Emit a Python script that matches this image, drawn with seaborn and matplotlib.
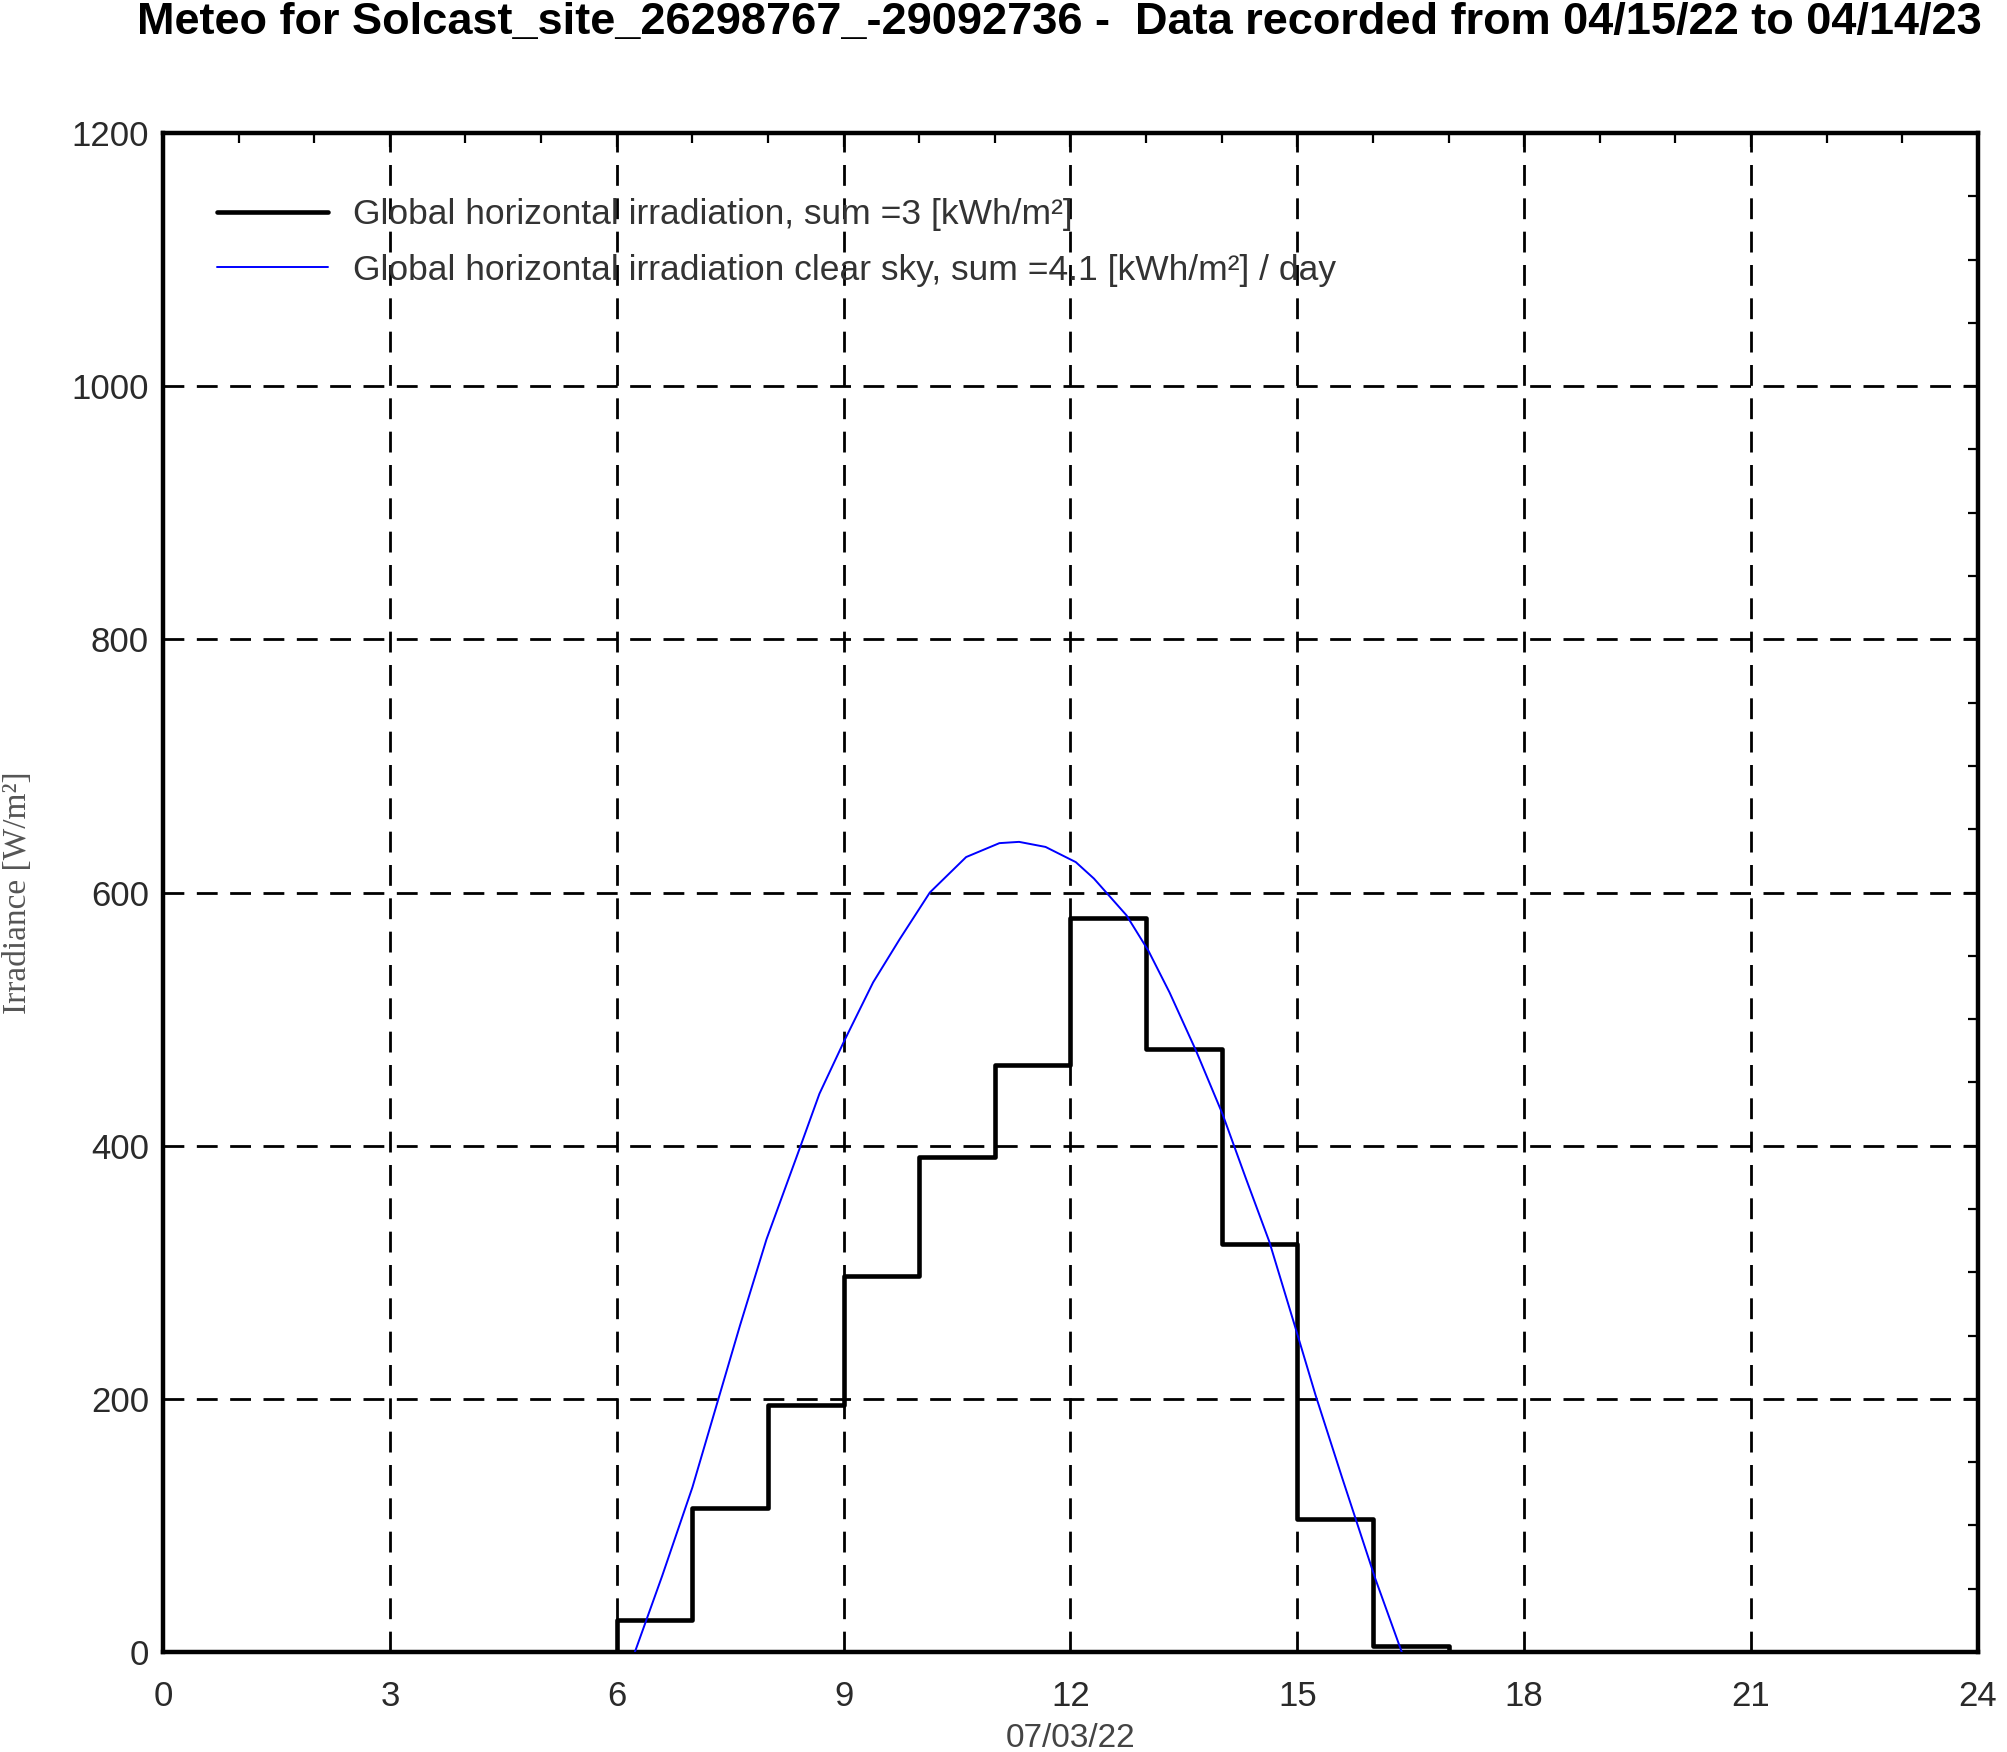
import numpy as np
import pandas as pd
import matplotlib
matplotlib.use('Agg')
import matplotlib.pyplot as plt
import seaborn as sns
from matplotlib import font_manager
from matplotlib.ticker import MultipleLocator

# 数据：逐时总辐射（阶梯）与晴空辐射曲线
hours = list(range(25))
ghi = [0, 0, 0, 0, 0, 0, 25, 114, 195, 297, 391, 464, 580, 476, 322, 105, 5, 0, 0, 0, 0, 0, 0, 0, 0]

cs_hour = [6.24, 6.6, 7.0, 7.32, 7.63, 7.98, 8.42, 8.68, 9.01, 9.39, 9.74, 10.14,
           10.62, 11.06, 11.32, 11.67, 12.07, 12.31, 12.74, 13.03, 13.31, 13.66,
           14.01, 14.32, 14.63, 14.98, 15.24, 15.59, 15.81, 16.03, 16.38]
cs_val = [0, 60, 130, 195, 258, 326, 398, 441, 483, 529, 563, 600,
          628, 639, 640, 636, 624, 611, 582, 554, 521, 475,
          425, 374, 324, 255, 203, 138, 98, 58, 0]

x_ticks = [0, 3, 6, 9, 12, 15, 18, 21, 24]
y_ticks = [0, 200, 400, 600, 800, 1000, 1200]

title = 'Meteo for Solcast_site_26298767_-29092736 -  Data recorded from 04/15/22 to 04/14/23'
label_ghi = 'Global horizontal irradiation, sum =3 [kWh/m²]'
label_cs = 'Global horizontal irradiation clear sky, sum =4.1 [kWh/m²] / day'
x_label = '07/03/22'
y_label = 'Irradiance [W/m²]'

df_ghi = pd.DataFrame({'hour': hours, 'ghi': ghi})
df_cs = pd.DataFrame({'hour': cs_hour, 'cs': cs_val})

sns.set_theme(style='white')
plt.rcParams['font.family'] = ['Liberation Sans', 'DejaVu Sans']

names = {f.name for f in font_manager.fontManager.ttflist}
title_font = 'Liberation Sans Narrow' if 'Liberation Sans Narrow' in names else 'Liberation Sans'

fig = plt.figure(figsize=(20.08, 17.52), dpi=100)
ax = fig.add_axes([163 / 2008, 1 - 1652 / 1752, 1815 / 2008, 1519 / 1752])

sns.lineplot(data=df_ghi, x='hour', y='ghi', ax=ax, color='black', linewidth=3.3,
             drawstyle='steps-post', label=label_ghi, zorder=3)
sns.lineplot(data=df_cs, x='hour', y='cs', ax=ax, color='#0000ff', linewidth=1.4,
             label=label_cs, zorder=4)

ax.set_xlim(0, 24)
ax.set_ylim(0, 1200)
ax.set_xticks(x_ticks)
ax.set_yticks(y_ticks)
ax.xaxis.set_minor_locator(MultipleLocator(1))
ax.yaxis.set_minor_locator(MultipleLocator(50))

ax.grid(True, which='major', color='black', linestyle=(0, (7.5, 4.5)), linewidth=2)
for s in ax.spines.values():
    s.set_visible(True)
    s.set_color('black')
    s.set_linewidth(3.2)

ax.tick_params(which='both', direction='in', top=True, right=True, color='black')
ax.tick_params(which='major', length=10, width=1.6, labelsize=25, labelcolor='#2a2a2a')
ax.tick_params(which='minor', length=7, width=1.6)
ax.tick_params(axis='x', which='major', pad=20)
ax.tick_params(axis='y', which='major', pad=10)

ax.set_xlabel(x_label, fontsize=24, color='#444444')
ax.xaxis.set_label_coords(0.5, -0.057)
ax.xaxis.label.set_va('center')
ax.set_ylabel(y_label, fontsize=24, color='#555555', family='Liberation Serif')
ax.yaxis.set_label_coords(-0.08, 0.5)
ax.yaxis.label.set_va('center')

leg = ax.legend(loc='upper left', bbox_to_anchor=(0.012, 0.978), frameon=False,
                fontsize=25.5, handlelength=3.15, handletextpad=0.7, labelspacing=0.63)
for t in leg.get_texts():
    t.set_color('#333333')

fig.text(137 / 2008, 1 - 2 / 1752, title, ha='left', va='top', fontsize=32.5,
         fontweight='bold', family=title_font, color='black')

fig.savefig('out.png', dpi=100)
